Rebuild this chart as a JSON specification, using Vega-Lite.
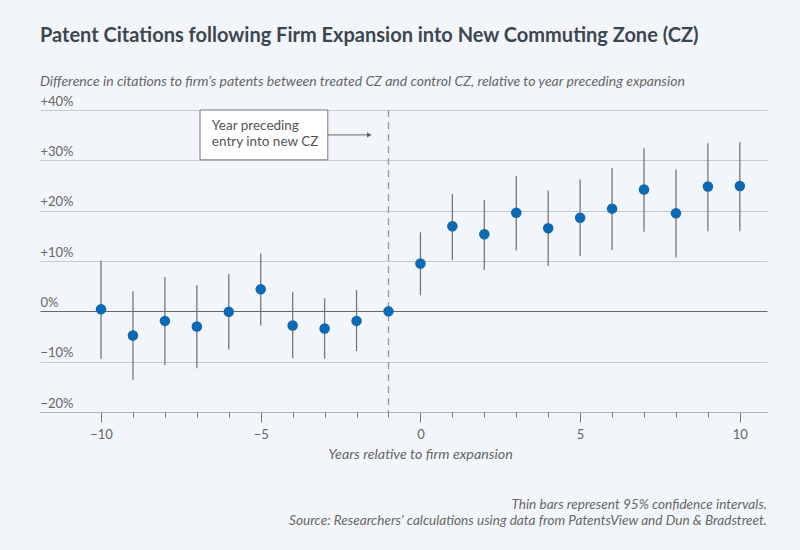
{
  "$schema": "https://vega.github.io/schema/vega-lite/v6.json",
  "autosize": {"type": "none"},
  "width": 727,
  "height": 302,
  "padding": {"left": 40, "top": 110, "right": 33, "bottom": 138},
  "background": "#f2f6fa",
  "config": {
    "view": {"stroke": null},
    "font": "Lato",
    "axis": {"labelFont": "Lato", "titleFont": "Lato"}
  },
  "title": {
    "text": "Patent Citations following Firm Expansion into New Commuting Zone (CZ)",
    "subtitle": "Difference in citations to firm’s patents between treated CZ and control CZ, relative to year preceding expansion",
    "anchor": "start",
    "frame": "group",
    "font": "Lato",
    "fontSize": 20,
    "fontWeight": "bold",
    "color": "#3c4650",
    "subtitleFont": "Lato",
    "subtitleFontSize": 14,
    "subtitleFontStyle": "italic",
    "subtitleColor": "#666666",
    "subtitlePadding": 29,
    "offset": 6
  },
  "datasets": {
    "estimates": [
      {"year": -10, "est": 0.4, "lo": -9.4, "hi": 10.1},
      {"year": -9, "est": -4.8, "lo": -13.6, "hi": 4.0},
      {"year": -8, "est": -1.9, "lo": -10.7, "hi": 6.8},
      {"year": -7, "est": -3.0, "lo": -11.3, "hi": 5.2},
      {"year": -6, "est": -0.1, "lo": -7.6, "hi": 7.4},
      {"year": -5, "est": 4.4, "lo": -2.8, "hi": 11.5},
      {"year": -4, "est": -2.8, "lo": -9.3, "hi": 3.8},
      {"year": -3, "est": -3.4, "lo": -9.4, "hi": 2.6},
      {"year": -2, "est": -1.9, "lo": -7.9, "hi": 4.2},
      {"year": -1, "est": 0, "lo": null, "hi": null},
      {"year": 0, "est": 9.5, "lo": 3.2, "hi": 15.7},
      {"year": 1, "est": 16.9, "lo": 10.2, "hi": 23.3},
      {"year": 2, "est": 15.3, "lo": 8.2, "hi": 22.1},
      {"year": 3, "est": 19.6, "lo": 12.1, "hi": 26.9},
      {"year": 4, "est": 16.5, "lo": 9.0, "hi": 24.0},
      {"year": 5, "est": 18.6, "lo": 11.0, "hi": 26.2},
      {"year": 6, "est": 20.4, "lo": 12.2, "hi": 28.5},
      {"year": 7, "est": 24.2, "lo": 15.8, "hi": 32.4},
      {"year": 8, "est": 19.5, "lo": 10.7, "hi": 28.2},
      {"year": 9, "est": 24.8, "lo": 15.9, "hi": 33.4},
      {"year": 10, "est": 24.9, "lo": 15.9, "hi": 33.6}
    ],
    "box": [{"x1": -6.9, "x2": -2.9, "y1": 40, "y2": 30.1}],
    "boxText": [
      {"x": -6.53, "y": 36.06, "label": "Year preceding"},
      {"x": -6.53, "y": 32.77, "label": "entry into new CZ"}
    ],
    "arrow": [{"x1": -2.9, "x2": -1.6, "y": 35.05}],
    "footer": [
      {"x": 10.85, "y": -39.3, "label": "Thin bars represent 95% confidence intervals."},
      {"x": 10.85, "y": -42.4, "label": "Source: Researchers’ calculations using data from PatentsView and Dun & Bradstreet."}
    ]
  },
  "resolve": {"axis": {"x": "independent"}},
  "layer": [
    {
      "data": {"name": "estimates"},
      "mark": {"type": "rule", "color": "#777777", "strokeWidth": 1.3},
      "transform": [{"filter": "datum.lo != null"}],
      "encoding": {
        "x": {
          "field": "year",
          "type": "quantitative",
          "scale": {"domain": [-11.91, 10.85], "nice": false, "zero": false},
          "axis": {
            "orient": "bottom",
            "values": [-10, -5, 0, 5, 10],
            "labelOverlap": false,
            "labelFlush": false,
            "grid": false,
            "domainColor": "#b0b4b8",
            "tickColor": "#777777",
            "tickSize": 10,
            "labelFontSize": 13,
            "labelColor": "#666666",
            "labelPadding": 6,
            "title": "Years relative to firm expansion",
            "titleFontSize": 14.3,
            "titleFontStyle": "italic",
            "titleFontWeight": "normal",
            "titleColor": "#666666",
            "titleX": 380,
            "titlePadding": 6
          }
        },
        "y": {
          "field": "lo",
          "type": "quantitative",
          "scale": {"domain": [-20, 40], "nice": false},
          "axis": {
            "values": [-20, -10, 0, 10, 20, 30, 40],
            "labelExpr": "datum.value > 0 ? '+' + datum.value + '%' : (datum.value < 0 ? '\u2212' + abs(datum.value) + '%' : '0%')",
            "domain": false,
            "ticks": false,
            "tickSize": 0,
            "labelAlign": "left",
            "labelBaseline": "alphabetic",
            "labelPadding": 0,
            "labelOffset": -5,
            "labelFontSize": 13,
            "labelColor": "#666666",
            "gridColor": {"condition": {"test": "datum.value === 0", "value": "#666666"}, "value": "#c6cacf"},
            "gridWidth": 1.2,
            "title": null
          }
        },
        "y2": {"field": "hi"}
      }
    },
    {
      "data": {"name": "estimates"},
      "mark": {"type": "rule", "color": "#999999", "strokeWidth": 1.3, "strokeDash": [7, 5]},
      "transform": [{"filter": "datum.year === -1"}],
      "encoding": {
        "x": {
          "field": "year",
          "type": "quantitative",
          "axis": {
            "orient": "bottom",
            "values": [-9, -8, -7, -6, -4, -3, -2, -1, 1, 2, 3, 4, 6, 7, 8, 9],
            "labels": false,
            "domain": false,
            "grid": false,
            "tickColor": "#777777",
            "tickSize": 5,
            "title": null
          }
        }
      }
    },
    {
      "data": {"name": "box"},
      "mark": {"type": "rect", "fill": "white", "stroke": "#777777", "strokeWidth": 1},
      "encoding": {
        "x": {"field": "x1", "type": "quantitative", "axis": null},
        "x2": {"field": "x2"},
        "y": {"field": "y1", "type": "quantitative"},
        "y2": {"field": "y2"}
      }
    },
    {
      "data": {"name": "boxText"},
      "mark": {"type": "text", "align": "left", "baseline": "alphabetic", "fontSize": 13.5, "color": "#555555"},
      "encoding": {
        "x": {"field": "x", "type": "quantitative", "axis": null},
        "y": {"field": "y", "type": "quantitative"},
        "text": {"field": "label"}
      }
    },
    {
      "data": {"name": "arrow"},
      "mark": {"type": "rule", "color": "#666666", "strokeWidth": 1},
      "encoding": {
        "x": {"field": "x1", "type": "quantitative", "axis": null},
        "x2": {"field": "x2"},
        "y": {"field": "y", "type": "quantitative"}
      }
    },
    {
      "data": {"name": "arrow"},
      "mark": {"type": "point", "shape": "triangle-right", "filled": true, "size": 28, "color": "#666666", "opacity": 1},
      "encoding": {
        "x": {"field": "x2", "type": "quantitative", "axis": null},
        "y": {"field": "y", "type": "quantitative"}
      }
    },
    {
      "data": {"name": "estimates"},
      "mark": {"type": "circle", "size": 110, "color": "#0a6ab4", "opacity": 1},
      "encoding": {
        "x": {"field": "year", "type": "quantitative", "axis": null},
        "y": {"field": "est", "type": "quantitative"}
      }
    },
    {
      "data": {"name": "footer"},
      "mark": {"type": "text", "align": "right", "baseline": "alphabetic", "fontSize": 13.6, "fontStyle": "italic", "color": "#666666", "clip": false},
      "encoding": {
        "x": {"field": "x", "type": "quantitative", "axis": null},
        "y": {"field": "y", "type": "quantitative"},
        "text": {"field": "label"}
      }
    }
  ]
}
